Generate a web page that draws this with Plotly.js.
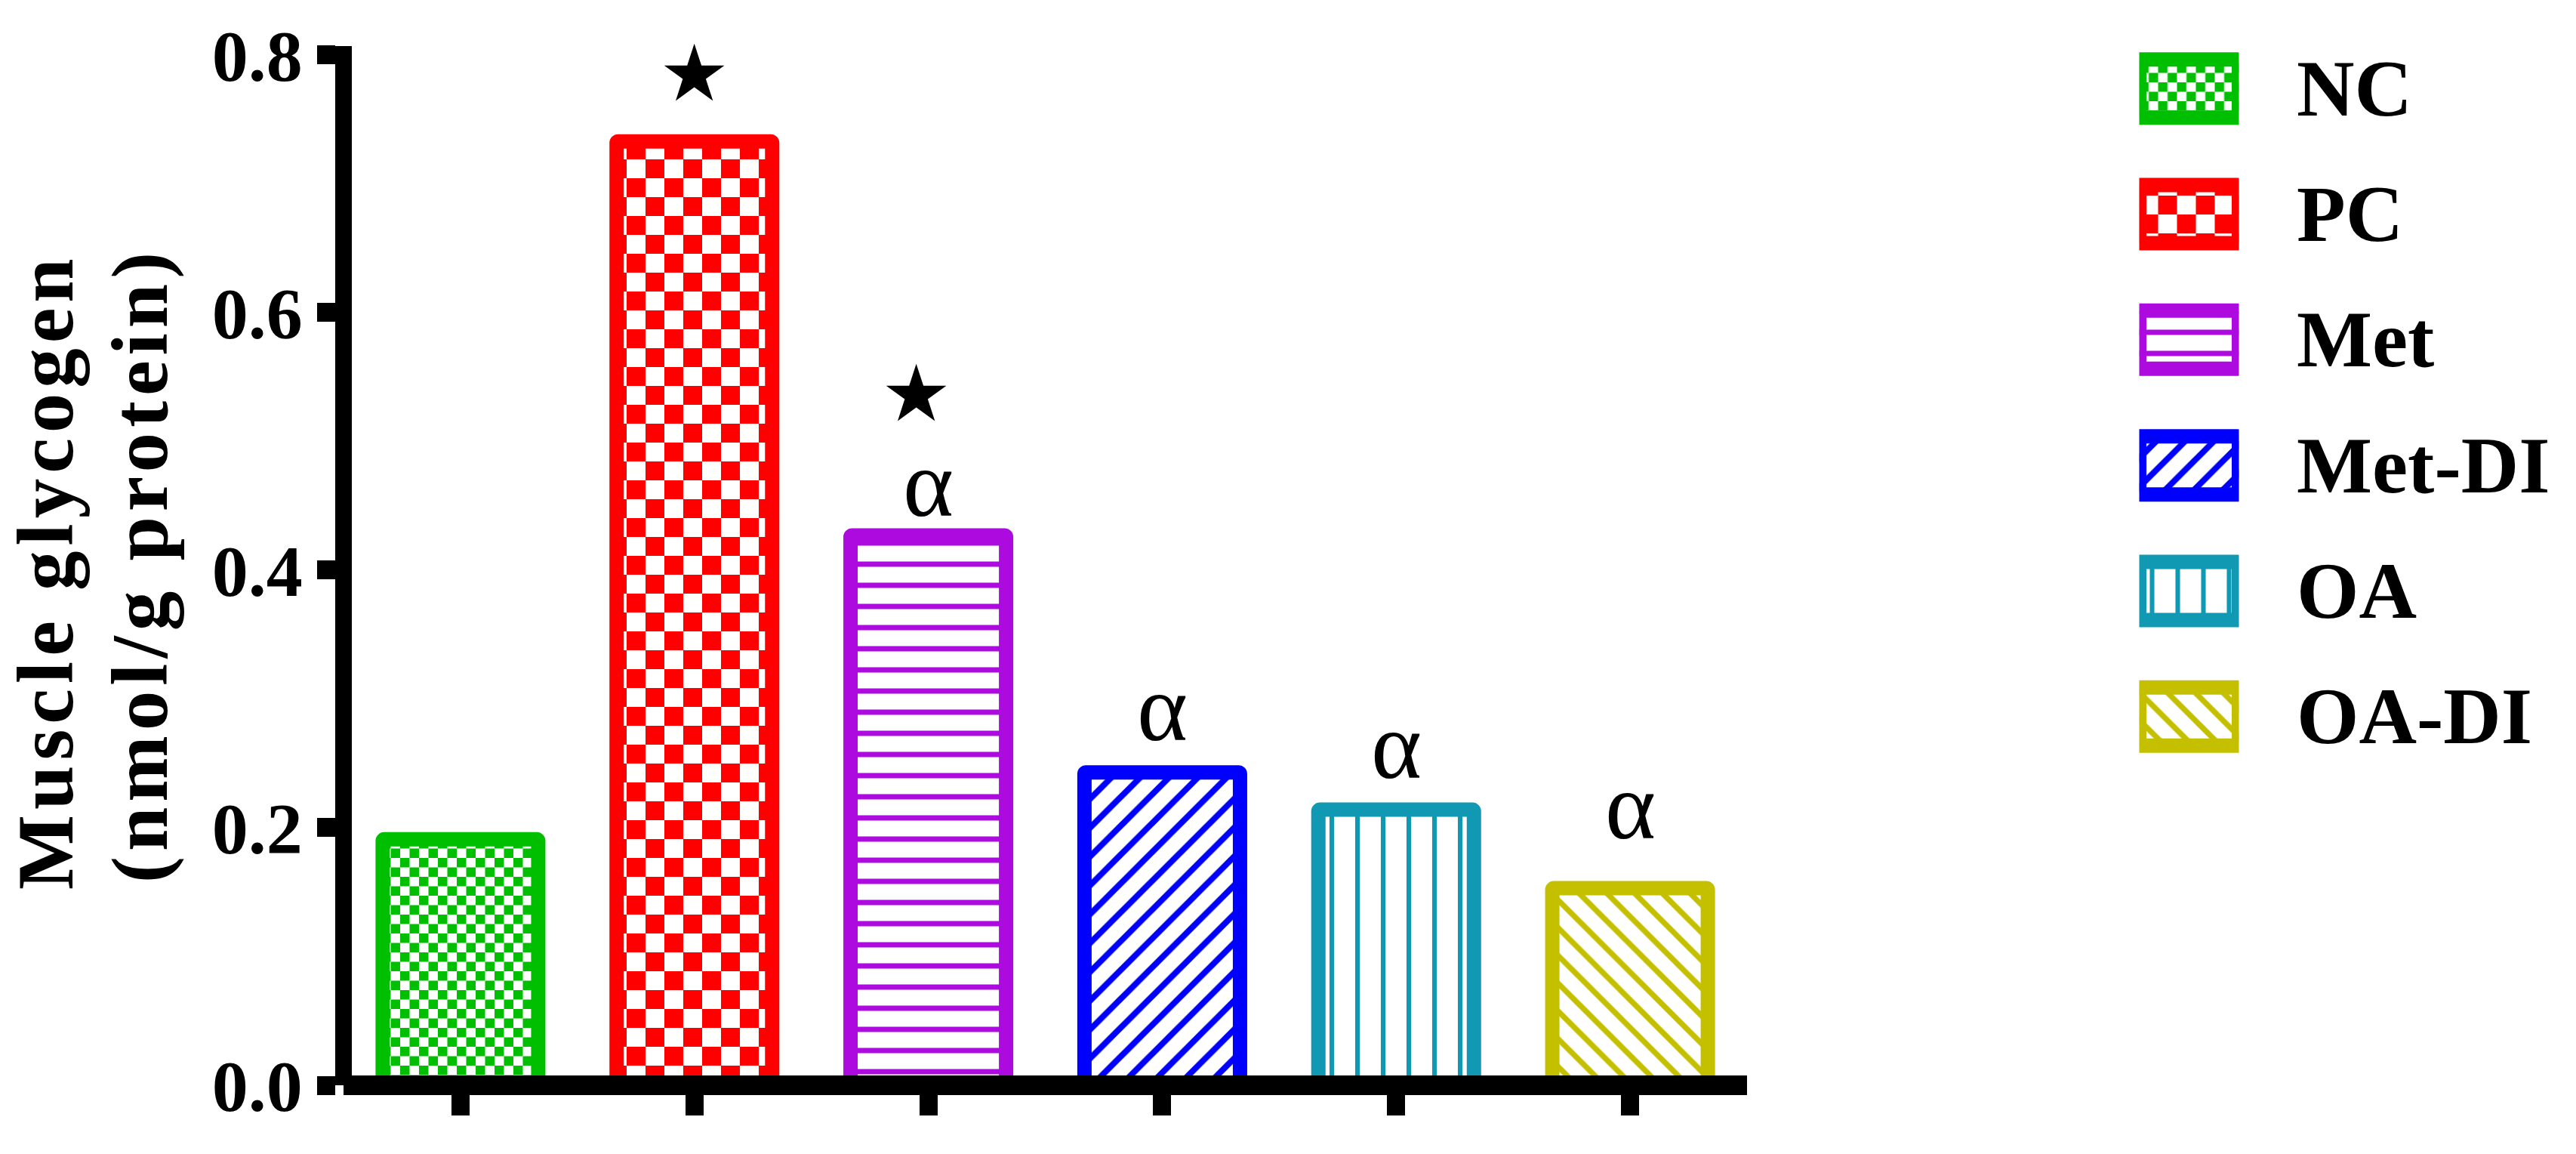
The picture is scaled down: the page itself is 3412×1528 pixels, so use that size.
<!DOCTYPE html>
<html>
<head>
<meta charset="utf-8">
<script src="https://cdn.plot.ly/plotly-3.0.1.min.js"></script>
<style>
  html, body { margin: 0; padding: 0; background: #fff; }
  #chart { width: 3412px; height: 1528px; }
</style>
</head>
<body>
<div id="chart"></div>
<script>
var W = 3412, H = 1528;

// data
var groups = ["NC", "PC", "Met", "Met-DI", "OA", "OA-DI"];
var glycogen = [0.191, 0.733, 0.427, 0.243, 0.214, 0.153];
var yTicks = [0, 0.2, 0.4, 0.6, 0.8];
var yTitle = ["Muscle glycogen", "(nmol/g protein)"];

// significance marks (star vs NC, alpha vs PC) and where they sit
var starMark = ["", "\u2605", "\u2605", "", "", ""];
var alphaMark = ["", "", "\u03b1", "\u03b1", "\u03b1", "\u03b1"];
var starY = [null, 0.786, 0.537, null, null, null];
var alphaY = [null, null, 0.459, 0.285, 0.256, 0.209];

var colors = ["#00bf00", "#ff0000", "#ad0ae0", "#0000ff", "#1199b4", "#c4c000"];
// checker = cell size of a checkerboard drawn into the pattern afterwards
var fills = [
    {shape: "+", size: 25, solidity: 0.5, checker: 12.5},
    {shape: "+", size: 50, solidity: 0.5, checker: 25},
    {shape: "-", size: 28, solidity: 0.25},
    {shape: "/", size: 27, solidity: 0.3},
    {shape: "|", size: 34, solidity: 0.18},
    {shape: "\\", size: 26, solidity: 0.28}
];

var traces = [];
var annotations = [];

groups.forEach(function (g, i) {
    var marker = {
        color: colors[i],
        line: {color: colors[i], width: 19},
        cornerradius: 2,
        pattern: {
            shape: fills[i].shape,
            size: fills[i].size,
            solidity: fills[i].solidity,
            fillmode: "replace",
            fgcolor: colors[i],
            bgcolor: "white"
        }
    };
    traces.push({
        type: "bar", uid: "bar" + i,
        x: [g], y: [glycogen[i]],
        xaxis: "x", yaxis: "y",
        width: 0.665, marker: marker,
        showlegend: false, hoverinfo: "skip"
    });
    // legend key, drawn as its own little bar
    traces.push({
        type: "bar", uid: "key" + i, orientation: "h",
        x: [1], y: [g],
        xaxis: "x2", yaxis: "y2",
        width: 0.463, marker: marker,
        showlegend: false, hoverinfo: "skip"
    });

    if (starMark[i]) {
        annotations.push({
            x: g, y: starY[i], xref: "x", yref: "y",
            text: starMark[i], showarrow: false, yanchor: "middle",
            xshift: i === 2 ? -16 : 0,
            font: {family: "DejaVu Sans", size: 104, color: "black"}
        });
    }
    if (alphaMark[i]) {
        annotations.push({
            x: g, y: alphaY[i], xref: "x", yref: "y",
            text: alphaMark[i], showarrow: false, yanchor: "middle", yshift: 14,
            font: {family: "Liberation Serif", size: 128, color: "black"}
        });
    }
    annotations.push({
        x: 3040 / W, xref: "paper", xanchor: "left",
        y: g, yref: "y2", yanchor: "middle",
        text: g, showarrow: false,
        font: {family: "Liberation Serif", size: 106, weight: "bold", color: "black"}
    });
});

// y title, one annotation per line so the spacing matches
var titleX = [61, 185], titleY = [757, 748];
yTitle.forEach(function (t, k) {
    annotations.push({
        x: titleX[k] / W, y: (H - titleY[k]) / H, xref: "paper", yref: "paper",
        xanchor: "center", yanchor: "middle", textangle: -90,
        text: '<span style="letter-spacing:7px">' + t + "</span>", showarrow: false,
        font: {family: "Liberation Serif", size: 105, weight: "bold", color: "black"}
    });
});

var layout = {
    width: W, height: H,
    margin: {l: 0, r: 0, t: 0, b: 0},
    paper_bgcolor: "white", plot_bgcolor: "white",
    barmode: "overlay",
    font: {family: "Liberation Serif, Times New Roman, serif", color: "black"},
    xaxis: {
        domain: [455 / W, 2314 / W],
        anchor: "free", position: (H - 1437) / H,
        type: "category", range: [-0.5, 5.5],
        showline: true, linecolor: "black", linewidth: 26,
        ticks: "outside", ticklen: 27, tickwidth: 24, tickcolor: "black",
        showticklabels: false, showgrid: false, zeroline: false
    },
    yaxis: {
        domain: [(H - 1437) / H, (H - 61) / H],
        anchor: "free", position: 455 / W,
        range: [0, 0.807],
        tickvals: yTicks, tickformat: ".1f",
        showline: true, linecolor: "black", linewidth: 22,
        ticks: "outside", ticklen: 24, tickwidth: 25, tickcolor: "black",
        tickfont: {size: 96, weight: "bold"},
        showgrid: false, zeroline: false
    },
    xaxis2: {domain: [2833.5 / W, 2965.5 / W], anchor: "y2", range: [0, 1], visible: false},
    yaxis2: {
        domain: [(H - 1032) / H, (H - 34) / H], anchor: "x2",
        type: "category", range: [5.5, -0.5], visible: false
    },
    annotations: annotations
};

// plotly has no checkerboard pattern: redraw those pattern tiles by hand
function checker(pat, cell, color) {
    var ns = "http://www.w3.org/2000/svg";
    pat.setAttribute("width", 2 * cell);
    pat.setAttribute("height", 2 * cell);
    while (pat.firstChild) pat.removeChild(pat.firstChild);
    [[0, 0, 2 * cell, "white"], [0, 0, cell, color], [cell, cell, cell, color]].forEach(function (r) {
        var rect = document.createElementNS(ns, "rect");
        rect.setAttribute("x", r[0]);
        rect.setAttribute("y", r[1]);
        rect.setAttribute("width", r[2]);
        rect.setAttribute("height", r[2]);
        rect.setAttribute("fill", r[3]);
        pat.appendChild(rect);
    });
}

Plotly.newPlot("chart", traces, layout, {staticPlot: true}).then(function (gd) {
    gd.querySelectorAll("pattern").forEach(function (p) {
        var m = p.id.match(/(bar|key)(\d)/);
        if (!m) return;
        var i = +m[2];
        if (fills[i].checker) checker(p, fills[i].checker, colors[i]);
    });
});
</script>
</body>
</html>
